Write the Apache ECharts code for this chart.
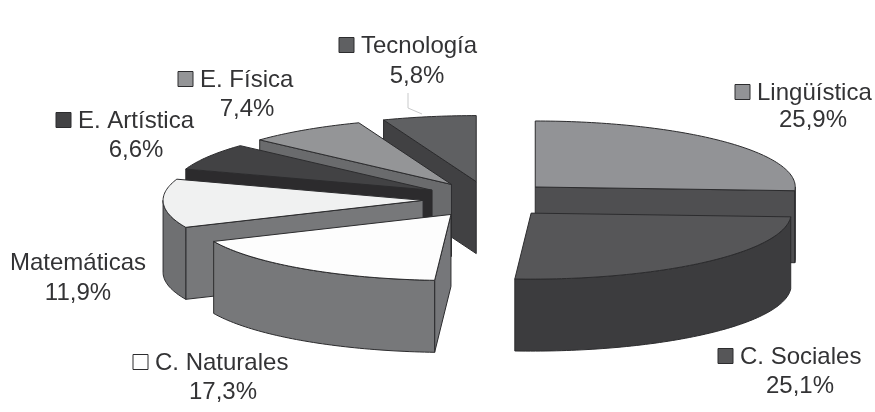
<!DOCTYPE html>
<html>
<head>
<meta charset="utf-8">
<style>html,body{margin:0;padding:0;background:#fff}#c{width:875px;height:412px}</style>
<script src="https://cdn.jsdelivr.net/npm/echarts@6/dist/echarts.min.js"></script>
</head>
<body>
<div id="c"></div>
<script>
// Data (clockwise from 12 o'clock)
const categories = ['Lingüística','C. Sociales','C. Naturales','Matemáticas','E. Artística','E. Física','Tecnología'];
const percents = [25.9,25.1,17.3,11.9,6.6,7.4,5.8];

// Styles per slice
const topColors  = ['#929396','#565658','#fdfdfd','#f0f1f1','#424244','#949597','#5f6062'];
const cutColors  = ['#4f4f51','#3c3c3e','#76777a','#77787a','#2c2b2d','#6a6b6d','#414143'];
const rimColors  = ['#4f4f51','#3c3c3e','#77787a','#6f7072','#2c2b2d','#6a6b6d','#414143'];
const keyVisible = [true,true,true,false,true,true,true];

// Label layout: [left of name text, name centre y, percent centre x, percent centre y]
const labelLayout = [
  [757,93,813,120],[740,357,800,386],[155,363,223,392],[10,263,78,293],
  [78,121,136,150],[200,80,247,109],[361,46,417,76]
];

// Pie geometry
const CX=488, CY=199.5, RX=260, RY=66, DEPTH=72, EXPLODE_X=65, EXPLODE_Y=18.2;
const FONT='24px "Liberation Sans", Arial, sans-serif', INK='#333335', EDGE='#2c2c2e';

const total = percents.reduce((a,b)=>a+b,0);
const slices = []; let acc=0;
percents.forEach((v,i)=>{
  const a0=acc/total*Math.PI*2; acc+=v; const a1=acc/total*Math.PI*2; const m=(a0+a1)/2;
  slices.push({a0,a1,ax:CX+EXPLODE_X*Math.sin(m),ay:CY-EXPLODE_Y*Math.cos(m)});
});
const order = slices.map((s,i)=>i).sort((p,q)=>slices[p].ay-slices[q].ay);

function pt(s,a,dz){return [s.ax+RX*Math.sin(a), s.ay-RY*Math.cos(a)+(dz||0)];}
function arc(s,a0,a1,dz){const n=Math.max(2,Math.ceil((a1-a0)/0.02));const o=[];for(let k=0;k<=n;k++)o.push(pt(s,a0+(a1-a0)*k/n,dz));return o;}
function poly(points,fill){return {type:'polygon',shape:{points},style:{fill,stroke:EDGE,lineWidth:1,lineJoin:'round'},silent:true};}

function renderItem(params,api){
  const i=api.value(0), s=slices[i], ch=[];
  const apex=[s.ax,s.ay], apexB=[s.ax,s.ay+DEPTH];
  // cut faces that look toward the viewer
  if(Math.sin(s.a0)<-1e-6) ch.push(poly([apex,pt(s,s.a0),pt(s,s.a0,DEPTH),apexB],cutColors[i]));
  if(Math.sin(s.a1)>1e-6)  ch.push(poly([apex,pt(s,s.a1),pt(s,s.a1,DEPTH),apexB],cutColors[i]));
  // outer rim, front half only
  const r0=Math.max(s.a0,Math.PI/2), r1=Math.min(s.a1,Math.PI*1.5);
  if(r1>r0) ch.push(poly(arc(s,r0,r1,0).concat(arc(s,r0,r1,DEPTH).reverse()),rimColors[i]));
  // top face
  ch.push(poly([apex].concat(arc(s,s.a0,s.a1,0)),topColors[i]));
  return {type:'group',children:ch};
}

function renderLabel(params,api){
  const i=api.value(0), l=labelLayout[i], ch=[];
  if(keyVisible[i]) ch.push({type:'rect',shape:{x:l[0]-22,y:l[1]-8.5,width:15,height:15},
    style:{fill:i===2?'#ffffff':topColors[i],stroke:EDGE,lineWidth:1},silent:true});
  ch.push({type:'text',style:{text:categories[i],x:l[0],y:l[1],font:FONT,fill:INK,align:'left',verticalAlign:'middle'},silent:true});
  ch.push({type:'text',style:{text:api.value(1).toFixed(1).replace('.',',')+'%',x:l[2],y:l[3],font:FONT,fill:INK,align:'center',verticalAlign:'middle'},silent:true});
  return {type:'group',children:ch};
}

const chart=echarts.init(document.getElementById('c'),null,{renderer:'canvas'});
chart.setOption({
  animation:false,
  backgroundColor:'#ffffff',
  series:[
    {type:'custom',coordinateSystem:'none',renderItem,silent:true,z:2,
     data:order.map(i=>[i,percents[i]])},
    {type:'custom',coordinateSystem:'none',renderItem:renderLabel,silent:true,z:3,
     data:categories.map((c,i)=>[i,percents[i]])}
  ],
  graphic:[{type:'polyline',z:1,silent:true,shape:{points:[[408,93],[408,108],[422,114]]},style:{stroke:'#c9cacb',lineWidth:1,fill:null}}]
});
</script>
</body>
</html>
